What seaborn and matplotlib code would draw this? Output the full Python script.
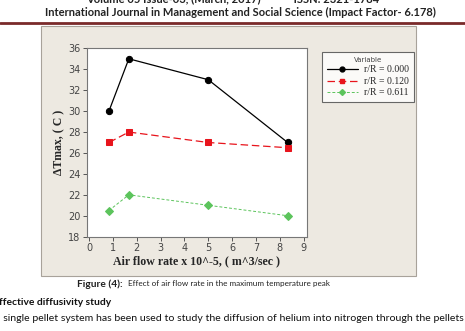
import matplotlib
matplotlib.use("Agg")
import matplotlib.pyplot as plt
import matplotlib.patches as mpatches
import matplotlib.lines as mlines
import seaborn as sns
import pandas as pd

# data
air_flow = [0.833, 1.667, 5.0, 8.333]
t_r000 = [30.0, 35.0, 33.0, 27.0]
t_r120 = [27.0, 28.0, 27.0, 26.5]
t_r611 = [20.5, 22.0, 21.0, 20.0]
series_names = ["r/R = 0.000", "r/R = 0.120", "r/R = 0.611"]

df = pd.DataFrame({
    "flow": air_flow * 3,
    "dT": t_r000 + t_r120 + t_r611,
    "Variable": [series_names[0]] * 4 + [series_names[1]] * 4 + [series_names[2]] * 4,
})

sns.set_style("white")
plt.rcParams['font.family'] = ['DejaVu Sans']

warna = {series_names[0]: "black", series_names[1]: "#e8141c", series_names[2]: "#5cc45c"}
garis = {series_names[0]: "", series_names[1]: (6, 3), series_names[2]: (3, 2)}
tanda = {series_names[0]: "o", series_names[1]: "s", series_names[2]: "D"}
tebal = {series_names[0]: 0.9, series_names[1]: 0.9, series_names[2]: 0.7}

fig = plt.figure(figsize=(4.65, 3.31), dpi=100)
fig.patch.set_facecolor("white")

# beige panel behind chart
panel = mpatches.Rectangle((0.088, 0.166), 0.807, 0.755, transform=fig.transFigure,
                           facecolor="#ede9e1", edgecolor="#a8a29a", linewidth=0.8, zorder=-5)
fig.patches.append(panel)

# header
fig.text(0.5, 1.005, "Volume 05 Issue-03, (March, 2017)            ISSN: 2321-1784",
         ha="center", va="center", fontsize=8, fontweight="bold", family="Lato", color="#222")
fig.text(0.518, 0.962, "International Journal in Management and Social Science (Impact Factor- 6.178)",
         ha="center", va="center", fontsize=8, fontweight="bold", family="Lato", color="#222")
fig.add_artist(mlines.Line2D([0, 1], [0.93, 0.93], transform=fig.transFigure,
                             color="#7a2a2a", linewidth=2.0))

ax = fig.add_axes([0.1865, 0.285, 0.474, 0.569])
ax.set_facecolor("white")
for nama in series_names:
    sub = df[df["Variable"] == nama]
    sns.lineplot(data=sub, x="flow", y="dT", ax=ax, color=warna[nama], marker=tanda[nama],
                 dashes=False, linewidth=tebal[nama], markersize=4.5 if nama != series_names[2] else 3.8,
                 markeredgecolor=warna[nama], label=nama, legend=False)
    if garis[nama]:
        ax.lines[-1].set_dashes(garis[nama])

ax.set_xlim(-0.1, 9.15)
ax.set_ylim(18, 36)
ax.set_xticks(range(0, 10))
ax.set_yticks(range(18, 37, 2))
ax.tick_params(axis="both", direction="out", length=3, width=0.7, labelsize=7,
               labelcolor="#444", color="#555", pad=1.5)
ax.xaxis.set_ticks_position("bottom")
ax.yaxis.set_ticks_position("left")
for s in ax.spines.values():
    s.set_color("#777")
    s.set_linewidth(0.8)

ax.set_xlabel("Air flow rate x 10^-5, ( m^3/sec )", family="Liberation Serif",
              fontweight="bold", fontsize=8.6, labelpad=1.5)
ax.set_ylabel("\u0394Tmax, ( C )", family="Liberation Serif",
              fontweight="bold", fontsize=8.5, labelpad=2)

handles = []
for n in series_names:
    h = mlines.Line2D([], [], color=warna[n], marker=tanda[n], linewidth=tebal[n],
                      markersize=3.5 if n != series_names[2] else 3)
    if garis[n]:
        h.set_dashes(garis[n])
    handles.append(h)
leg = fig.legend(handles=handles, labels=series_names, loc="upper left",
                 bbox_to_anchor=(0.682, 0.857), frameon=True, fancybox=False,
                 edgecolor="#444", facecolor="white", title="Variable",
                 prop={"family": "Liberation Serif", "size": 7}, handlelength=3.2,
                 borderpad=0.5, labelspacing=0.25, handletextpad=0.6)
leg.get_title().set_fontsize(5)
leg.get_title().set_color("#444")
leg.get_frame().set_linewidth(0.8)

# caption and body text
fig.text(77 / 465, 0.142, "Figure (4):", ha="left", va="center", fontsize=7.3,
         fontweight="bold", family="Lato", color="#222")
fig.text(128 / 465, 0.142, "Effect of air flow rate in the maximum temperature peak",
         ha="left", va="center", fontsize=5.9, family="Lato", color="#222")
fig.text(-0.003, 0.085, "ffective diffusivity study", ha="left", va="center",
         fontsize=7.4, fontweight="bold", family="Lato", color="#111")
fig.text(-0.005, 0.038, ". single pellet system has been used to study the diffusion of helium into nitrogen through the pellets",
         ha="left", va="center", fontsize=7.55, family="Lato", color="#111")

fig.savefig("out.png", dpi=100)
